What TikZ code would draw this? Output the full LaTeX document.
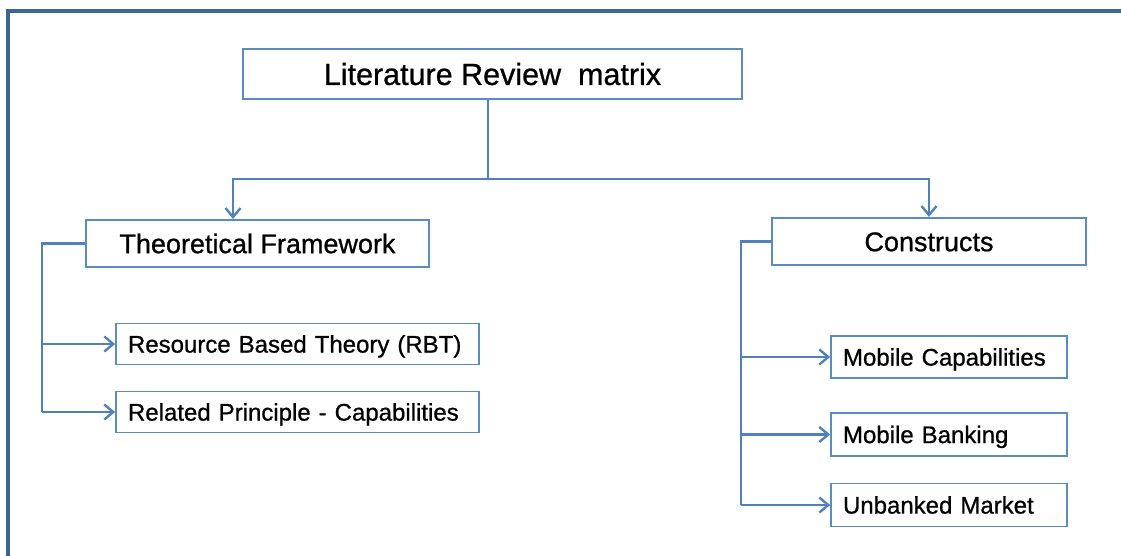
\documentclass[tikz,border=0pt]{standalone}
\usepackage{fontspec}
\setmainfont{Liberation Sans}[FakeBold=0.8]
\usetikzlibrary{arrows.meta}
\definecolor{framec}{HTML}{3D6496}
\definecolor{linec}{HTML}{4F81BD}
\definecolor{boxc}{HTML}{5A8AC8}
\tikzset{
  % centre the capitals of a line set at #1 pt in its box
  capcentred/.style={font=\fontsize{#1}{#1}\selectfont, text height=0.716*#1pt, text depth=0pt},
  bigbox/.style={draw=boxc, line width=2.2pt, rectangle, inner sep=0pt, text=black},
  leafbox/.style={draw=boxc, line width=1.7pt, rectangle, inner sep=0pt, inner xsep=12pt,
    align=left, capcentred=24, text=black},
  conn/.style={draw=linec, line width=2.8pt},
  arr/.style={conn, -{Straight Barb[length=9pt,width=15pt,line width=2.4pt]}},
}
\begin{document}
\begin{tikzpicture}[x=1pt,y=-1pt]
\useasboundingbox (0,0) rectangle (1121,556);
% outer frame
\draw[framec, line width=3.4pt] (8,560) -- (8,11) -- (1125,11);

% title and the two branches
\node[bigbox, minimum width=499pt, minimum height=50pt, capcentred=30.5]
  (top) at (492.5,74) {Literature Review\ \ matrix};
\node[bigbox, minimum width=343pt, minimum height=47pt, capcentred=27]
  (tf) at (257.5,243.5) {Theoretical Framework};
\node[bigbox, minimum width=314pt, minimum height=47pt, capcentred=27]
  (con) at (929,241.5) {Constructs};

% leaves
\node[leafbox, text width=339pt, minimum height=41pt] (rbt) at (297.5,344) {Resource Based Theory (RBT)};
\node[leafbox, text width=339pt, minimum height=41pt] (rel) at (297.5,412) {Related Principle - Capabilities};
\node[leafbox, text width=212pt, minimum height=42pt] (mc) at (949,357) {Mobile Capabilities};
\node[leafbox, text width=212pt, minimum height=43pt] (mb) at (949,434.5) {Mobile Banking};
\node[leafbox, text width=212pt, minimum height=43pt] (um) at (949,505) {Unbanked Market};

% junction points
\coordinate (hub) at (488,179);
\coordinate (lb) at (233,179);
\coordinate (rb) at (929,179);
\coordinate (lx) at (42,0);
\coordinate (rx) at (741,0);

% title to branches
\draw[conn] (top.south -| hub) -- (hub);
\draw[arr] (hub) -- (lb) -- (lb |- tf.north);
\draw[arr] (hub) -- (rb) -- (con.north);

% theoretical framework to its leaves
\draw[conn] (tf.west) -- (tf.west -| lx) -- (lx |- rel.west);
\draw[arr] (lx |- rbt.west) -- (rbt.west);
\draw[arr] (lx |- rel.west) -- (rel.west);

% constructs to its leaves
\draw[conn] (con.west) -- (con.west -| rx) -- (rx |- um.west);
\draw[arr] (rx |- mc.west) -- (mc.west);
\draw[arr] (rx |- mb.west) -- (mb.west);
\draw[arr] (rx |- um.west) -- (um.west);
\end{tikzpicture}
\end{document}
